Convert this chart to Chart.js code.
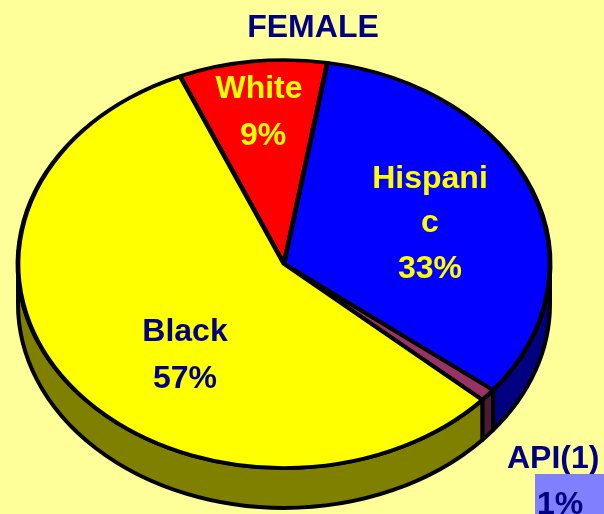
<!DOCTYPE html>
<html>
<head>
<meta charset="utf-8">
<script src="https://cdn.jsdelivr.net/npm/chart.js@4"></script>
<style>
    body { margin: 0; background: #ffff99; }
    #wrap { width: 604px; height: 514px; }
</style>
</head>
<body>
<div id="wrap"><canvas id="femaleChart"></canvas></div>
<script>
// data
const groups = ['White', 'Hispanic', 'API(1)', 'Black'];
const shares = [9, 33, 1, 57];
const topColors = ['#ff0000', '#0000ff', '#993366', '#ffff00'];
const sideColors = ['#800000', '#000080', '#4d1a33', '#808000'];

// ellipse of the top face on screen, and the depth of the 3d side
const pieCx = 284, pieCy = 264, pieRx = 266, pieRy = 204, pieDepth = 40;
const font = '"Liberation Sans", Arial, sans-serif';

// squash the round pie into a tilted ellipse and draw its side first
const tiltPlugin = {
    id: 'tilt',
    beforeDatasetsDraw(chart) {
        const ctx = chart.ctx;
        const arcs = chart.getDatasetMeta(0).data;
        const r = arcs[0].outerRadius;

        ctx.save();
        ctx.lineWidth = 4;
        ctx.strokeStyle = '#000';
        ctx.lineJoin = 'round';
        arcs.forEach((arc, i) => {
            for (let k = -1; k <= 1; k++) {
                const s = arc.startAngle + k * 2 * Math.PI;
                const e = arc.endAngle + k * 2 * Math.PI;
                const a = Math.max(s, 0), b = Math.min(e, Math.PI);
                if (b <= a) continue;
                ctx.beginPath();
                ctx.ellipse(pieCx, pieCy, pieRx, pieRy, 0, a, b, false);
                ctx.ellipse(pieCx, pieCy + pieDepth, pieRx, pieRy, 0, b, a, true);
                ctx.closePath();
                ctx.fillStyle = sideColors[i];
                ctx.fill();
                ctx.stroke();
            }
        });
        ctx.restore();

        // top face goes through chart.js with a squashed transform
        ctx.save();
        ctx.translate(pieCx, pieCy);
        ctx.scale(pieRx / r, pieRy / r);
        ctx.translate(-arcs[0].x, -arcs[0].y);
    },
    afterDatasetsDraw(chart) {
        chart.ctx.restore();
    }
};

// labels placed by hand, as in the original slide
const labelPlugin = {
    id: 'pieLabels',
    afterDraw(chart) {
        const ctx = chart.ctx;
        ctx.save();
        ctx.font = 'bold 32px ' + font;
        ctx.textBaseline = 'alphabetic';
        ctx.textAlign = 'center';

        ctx.fillStyle = '#ffff00';
        ctx.fillText('White', 259, 98);
        ctx.fillText(shares[0] + '%', 263, 145);
        ctx.fillText('Hispani', 430, 188);
        ctx.fillText('c', 430, 232);
        ctx.fillText(shares[1] + '%', 430, 278);

        ctx.fillStyle = '#000080';
        ctx.fillText('Black', 185, 341);
        ctx.fillText(shares[3] + '%', 185, 388);

        ctx.textAlign = 'left';
        ctx.fillText(groups[2], 507, 468);
        ctx.fillStyle = '#8080ff';
        ctx.fillRect(535, 474, 69, 40);
        ctx.fillStyle = '#000080';
        ctx.fillText(shares[2] + '%', 537, 514);
        ctx.restore();
    }
};

new Chart(document.getElementById('femaleChart'), {
    type: 'pie',
    data: {
        labels: groups,
        datasets: [{
            data: shares,
            backgroundColor: topColors,
            borderColor: '#000',
            borderWidth: 4,
            hoverOffset: 0
        }]
    },
    options: {
        responsive: true,
        maintainAspectRatio: false,
        animation: false,
        rotation: -23,
        layout: { padding: { left: 22, right: 0, top: 0, bottom: 10 } },
        plugins: {
            legend: { display: false },
            tooltip: { enabled: false },
            title: {
                display: true,
                text: 'FEMALE',
                color: '#000080',
                font: { family: font, size: 32, weight: 'bold' },
                padding: { top: 9, bottom: 6 }
            }
        }
    },
    plugins: [tiltPlugin, labelPlugin]
});
</script>
</body>
</html>
